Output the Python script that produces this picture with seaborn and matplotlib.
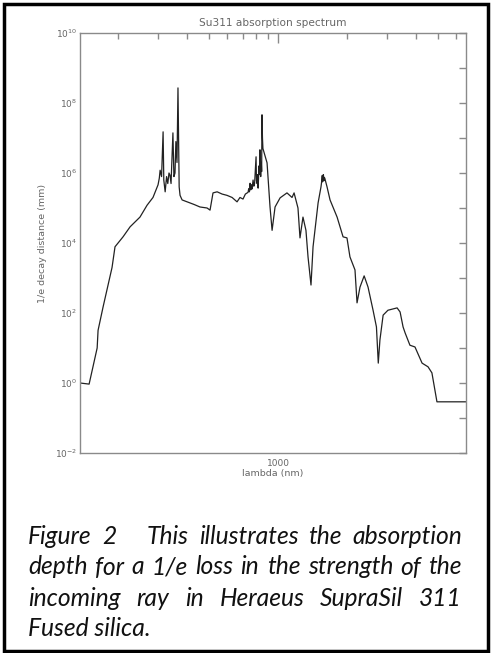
import matplotlib
matplotlib.use("Agg")
import math
import matplotlib.pyplot as plt
import seaborn as sns
import pandas as pd
from matplotlib.ticker import FixedLocator, FuncFormatter, NullFormatter, NullLocator
from matplotlib.patches import Rectangle

# ---------------- data ----------------
wavelength_nm = [
    136.5, 149.6, 162.2, 163.7, 172.2, 188.4, 194.1, 210.4, 225.9, 249.5,
    267.9, 284.4, 299.2, 303.0, 305.5, 310.0, 314.8, 317.0, 321.4, 326.0,
    330.0, 334.0, 337.3, 341.0, 347.5, 351.0, 354.8, 358.0, 362.0, 365.6,
    368.0, 370.0, 373.3, 381.1, 400.9, 430.0, 456.0, 489.8, 504.7, 520.0,
    542.0, 570.0, 598.4, 630.0, 662.2, 682.0, 703.1, 720.0,
    739.6, 745.0, 750.0, 755.1, 760.0, 765.0, 770.0, 778.0, 784.0, 790.0,
    795.0, 801.7, 805.0, 810.0, 814.0, 818.5, 822.0, 826.0, 830.0, 833.7,
    837.0, 840.0, 845.0, 848.0, 851.1, 855.0, 859.0,
    895.4, 922.6, 941.9, 970.5, 1021, 1094, 1151,
    1175, 1222, 1247, 1285, 1324, 1352, 1393, 1422, 1496, 1540,
    1547, 1555, 1560, 1565, 1570, 1574, 1578, 1585, 1592, 1600,
    1637, 1687, 1811, 1923, 2000,
    2061, 2168, 2213, 2280, 2377, 2472, 2600, 2690, 2740, 2786,
    2877, 3020, 3311, 3412, 3516, 3589, 3767, 3963, 4256, 4519,
    4699, 4943, 6620,
]
decay_mm = [
    1.0e0, 0.93, 1.0e1, 3.2e1, 1.5e2, 2.0e3, 7.8e3, 1.5e4, 2.9e4, 5.5e4,
    1.2e5, 2.0e5, 4.6e5, 7.1e5, 1.2e6, 7.9e5, 1.5e7, 6.3e5, 2.9e5, 7.9e5,
    5.0e5, 1.0e6, 8.7e5, 5.0e5, 1.4e7, 7.9e5, 1.0e6, 7.9e6, 2.0e6, 2.7e8,
    6.3e6, 4.0e5, 2.3e5, 1.7e5, 1.5e5, 1.26e5, 1.07e5, 1.0e5, 8.7e4, 2.7e5,
    2.9e5, 2.5e5, 2.3e5, 2.0e5, 1.5e5, 2.0e5, 1.8e5, 2.5e5,
    2.8e5, 3.6e5, 2.9e5, 5.1e5, 3.3e5, 4.6e5, 3.5e5, 6.3e5, 4.2e5, 5.0e5,
    1.1e6, 2.9e6, 6.0e5, 5.0e5, 9.0e5, 3.7e5, 7.0e5, 1.6e6, 9.0e5, 4.6e6,
    1.2e6, 7.9e5, 2.0e6, 1.1e6, 4.6e7, 1.0e7, 5.0e6,
    1.95e6, 1.07e5, 2.3e4, 1.07e5, 1.95e5, 2.7e5, 2.0e5,
    2.7e5, 1.0e5, 1.4e4, 5.5e4, 2.3e4, 4.0e3, 6.3e2, 7.8e3, 1.4e5, 4.0e5,
    5.0e5, 7.1e5, 8.5e5, 5.6e5, 6.5e5, 8.5e5, 9.0e5, 6.0e5, 7.5e5, 7.1e5,
    4.0e5, 1.7e5, 5.5e4, 1.5e4, 1.4e4,
    4.0e3, 1.7e3, 1.95e2, 5.5e2, 1.15e3, 5.5e2, 1.2e2, 4.0e1, 3.7e0, 1.7e1,
    8.7e1, 1.2e2, 1.4e2, 1.07e2, 4.0e1, 2.7e1, 1.2e1, 1.07e1, 3.7e0, 2.9e0,
    1.95e0, 0.29, 0.29,
]

title_text = "Su311 absorption spectrum"
x_label = "lambda (nm)"
y_label = "1/e decay distance (mm)"
x_major_ticks = [1000]
x_major_labels = ["1000"]
x_minor_ticks = [200, 300, 400, 500, 600, 700, 800, 900, 2000, 3000, 4000, 5000, 6000]
y_exponents = [-2, -1, 0, 1, 2, 3, 4, 5, 6, 7, 8, 9, 10]
y_labeled_exponents = [-2, 0, 2, 4, 6, 8, 10]
caption_lines = [
    "Figure 2    This illustrates the absorption",
    "depth for a 1/e loss in the strength of the",
    "incoming ray in Heraeus SupraSil 311",
    "Fused silica.",
]

df = pd.DataFrame({"wavelength": wavelength_nm, "decay": decay_mm})

# ---------------- figure ----------------
sns.set_theme(style="white")
plt.rcParams["font.family"] = ["DejaVu Sans"]
W, H, DPI = 491, 653, 100
fig = plt.figure(figsize=(W / DPI, H / DPI), dpi=DPI)
fig.patch.set_facecolor("white")

L, R, T, B = 80, 466, 33, 453
ax = fig.add_axes([L / W, 1 - B / H, (R - L) / W, (B - T) / H])
sns.lineplot(data=df, x="wavelength", y="decay", ax=ax, estimator=None, sort=False,
             color="#222222", linewidth=0.9)
ax.set_xscale("log")
ax.set_yscale("log")
ax.set_xlim(136.5, 6620)
ax.set_ylim(1e-2, 1e10)

axis_gray = "#8a8a8a"
text_gray = "#666666"
for s in ax.spines.values():
    s.set_color(axis_gray)
    s.set_linewidth(1.0)

ax.xaxis.set_major_locator(FixedLocator(x_major_ticks))
ax.xaxis.set_major_formatter(FuncFormatter(
    lambda v, p: x_major_labels[x_major_ticks.index(int(round(v)))] if int(round(v)) in x_major_ticks else ""))
ax.xaxis.set_minor_locator(FixedLocator(x_minor_ticks))
ax.xaxis.set_minor_formatter(NullFormatter())
ax.yaxis.set_major_locator(FixedLocator([10.0 ** e for e in y_exponents]))
ax.yaxis.set_minor_locator(NullLocator())


def yfmt(v, p):
    e = int(round(math.log10(v)))
    return r"$10^{%d}$" % e if e in y_labeled_exponents else ""


ax.yaxis.set_major_formatter(FuncFormatter(yfmt))

ax.tick_params(axis="both", which="both", direction="in", top=True, right=True,
               color=axis_gray, labelcolor=text_gray, width=1.0)
ax.tick_params(axis="x", which="major", length=7, labelsize=6.5, pad=4)
ax.tick_params(axis="x", which="minor", length=4)
ax.tick_params(axis="y", which="major", length=5, labelsize=6.5, pad=2)
ax.set_xlabel(x_label, color=text_gray, fontsize=6.8, labelpad=1)
ax.set_ylabel(y_label, color=text_gray, fontsize=6.8, labelpad=6)
ax.set_title(title_text, color=text_gray, fontsize=7.6, pad=5)
ax.grid(False)

# ---------------- outer frame ----------------
fig.patches.append(Rectangle((3.5 / W, 2.5 / H), (W - 6.5) / W, (H - 6.0) / H,
                             transform=fig.transFigure, fill=False,
                             edgecolor="black", linewidth=2.5))

# ---------------- caption (justified, italic) ----------------
fig.canvas.draw()
renderer = fig.canvas.get_renderer()
cap_font = dict(family=["Lato", "DejaVu Sans"], style="italic", color="#111111")
cap_left, cap_right = 28, 462
line_centers = [537, 567, 598, 629]


def text_width(s, size):
    t = fig.text(0, 0, s, fontsize=size, **cap_font)
    w = t.get_window_extent(renderer).width
    t.remove()
    return w


# choose size so that line 2 set with normal spacing nearly fills the column
base = 12.0
natural = text_width(caption_lines[1], base)
cap_size = base * 418.0 / natural

for i, line in enumerate(caption_lines):
    yf = 1 - line_centers[i] / H
    if i == len(caption_lines) - 1:
        fig.text(cap_left / W, yf, line, fontsize=cap_size, va="center", ha="left", **cap_font)
        continue
    words = line.split()
    widths = [text_width(w, cap_size) for w in words]
    gaps_weight = [1.0] * (len(words) - 1)
    if i == 0:
        gaps_weight[1] = 3.0
    free = (cap_right - cap_left) - sum(widths)
    unit = free / sum(gaps_weight)
    x = cap_left
    for j, w in enumerate(words):
        fig.text(x / W, yf, w, fontsize=cap_size, va="center", ha="left", **cap_font)
        x += widths[j]
        if j < len(gaps_weight):
            x += unit * gaps_weight[j]

fig.savefig("out.png", dpi=DPI, facecolor="white")
